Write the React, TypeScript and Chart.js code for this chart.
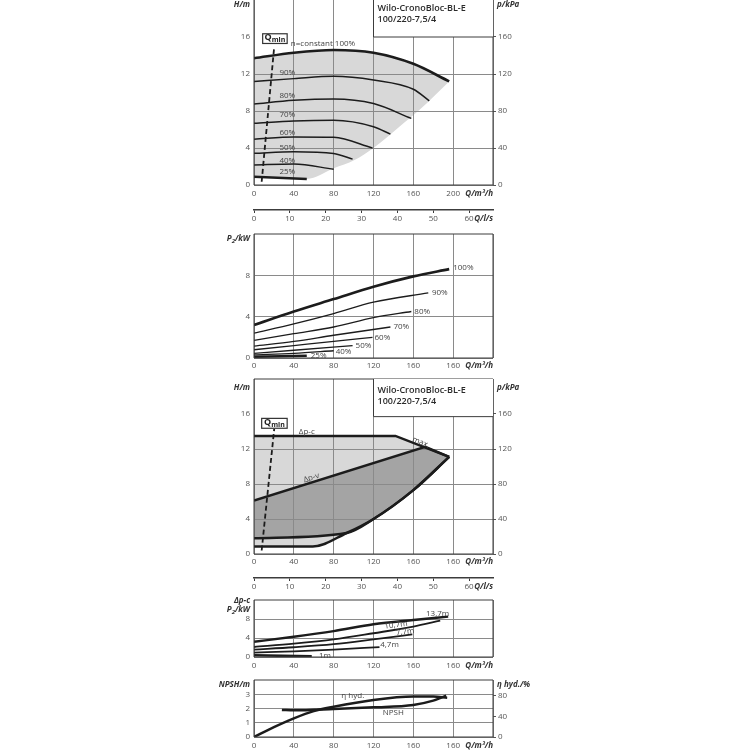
import { useEffect, useRef } from "react";
import { Chart, registerables, type ChartConfiguration, type Plugin } from "chart.js";

Chart.register(...registerables);

const FONT = "'Open Sans', 'DejaVu Sans', sans-serif";
const INK = "#1c1c1c";
const GRID = "#8a8a8a";
const FRAME = "#3c3c3c";
const TICK = "#555555";
const NOTE = "#444444";
const LIGHT = "#d8d8d8";
const DARK = "#a4a4a4";
const CLEAR = "rgba(0,0,0,0)";

type Pt = [number, number];

// axis ticks and printed labels
const qTicks = [0, 40, 80, 120, 160, 200, 240];
const qLabelsTop = ["0", "40", "80", "120", "160", "200", ""];
const qLabels = ["0", "40", "80", "120", "160", "160", ""];
const lsTicks = [0, 10, 20, 30, 40, 50, 60];
const hTicks = [0, 4, 8, 12, 16];
const pTicks = [0, 40, 80, 120, 160];
const kwTicks = [0, 4, 8];
const npshTicks = [0, 1, 2, 3];
const etaTicks = [0, 40, 80];

// H/m over Q/m³/h for each speed
const head100: Pt[] = [[0, 13.7], [40, 14.3], [80, 14.6], [120, 14.3], [160, 13.1], [196, 11.2]];
const head90: Pt[] = [[0, 11.2], [40, 11.5], [80, 11.75], [120, 11.35], [160, 10.35], [176, 9.1]];
const head80: Pt[] = [[0, 8.75], [40, 9.15], [80, 9.3], [120, 8.8], [158, 7.2]];
const head70: Pt[] = [[0, 6.67], [40, 6.92], [80, 7.0], [120, 6.3], [137, 5.5]];
const head60: Pt[] = [[0, 4.94], [40, 5.2], [80, 5.15], [119, 4.0]];
const head50: Pt[] = [[0, 3.42], [40, 3.6], [80, 3.4], [99, 2.8]];
const head40: Pt[] = [[0, 2.16], [40, 2.27], [80, 1.7]];
const head25: Pt[] = [[0, 0.9], [53, 0.65]];
const rangeEdge: Pt[] = [[0, 0.9], [53, 0.65], [80, 1.8], [101, 2.7], [120, 4.0], [146, 6.3], [166, 8.1], [196, 11.2]];
const qminTop: Pt[] = [[7.7, 0.35], [20.3, 14.95]];

// P2/kW over Q for each speed
const power100: Pt[] = [[0, 3.2], [40, 4.5], [80, 5.7], [120, 6.9], [160, 7.9], [196, 8.6]];
const power90: Pt[] = [[0, 2.4], [40, 3.3], [80, 4.3], [120, 5.4], [175, 6.3]];
const power80: Pt[] = [[0, 1.7], [40, 2.35], [80, 3.0], [120, 3.9], [158, 4.5]];
const power70: Pt[] = [[0, 1.15], [40, 1.6], [80, 2.2], [137, 3.0]];
const power60: Pt[] = [[0, 0.8], [40, 1.2], [80, 1.6], [119, 2.0]];
const power50: Pt[] = [[0, 0.45], [40, 0.75], [99, 1.2]];
const power40: Pt[] = [[0, 0.3], [40, 0.45], [80, 0.7]];
const power25: Pt[] = [[0, 0.12], [53, 0.22]];

// control modes Δp-c / Δp-v
const dpcTop: Pt[] = [[0, 13.5], [142, 13.5], [196, 11.1]];
const minEdge: Pt[] = [[0, 0.85], [59, 0.85], [93, 2.4], [120, 4.0], [160, 7.3], [196, 11.1]];
const dpvTop: Pt[] = [[0, 6.1], [172, 12.25], [196, 11.1]];
const dpvBottom: Pt[] = [[0, 1.8], [93, 2.4], [120, 4.0], [160, 7.3], [196, 11.1]];
const qminMid: Pt[] = [[7.7, 0.4], [20.3, 14.3]];

// Δp-c power at set heads
const dpc137: Pt[] = [[0, 3.2], [40, 4.25], [80, 5.45], [120, 6.9], [160, 7.8], [195, 8.5]];
const dpc107: Pt[] = [[0, 2.1], [40, 2.8], [80, 3.7], [120, 5.0], [160, 6.4], [187, 7.65]];
const dpc77: Pt[] = [[0, 1.56], [40, 2.05], [80, 2.7], [120, 3.7], [159, 4.75]];
const dpc47: Pt[] = [[0, 0.93], [40, 1.2], [80, 1.56], [126, 2.1]];
const dpc1: Pt[] = [[0, 0.36], [58, 0.15]];

// NPSH/m and hydraulic efficiency/%
const npsh: Pt[] = [[28, 1.9], [40, 1.87], [80, 1.96], [120, 2.08], [160, 2.25], [180, 2.55], [193, 2.9]];
const etaHyd: Pt[] = [[0, 0], [20, 19], [40, 36], [60, 50], [80, 58.5], [120, 71.5], [160, 78], [180, 78], [194, 75.5]];

type Seg = { t: string; sub?: boolean };
type Caption = { segs: Seg[]; at: "left" | "right" | "end"; from: "top" | "bottom"; dy: number };
type Note = { text: string; q: number; v: number; angle?: number; align?: CanvasTextAlign };
type Box = { q0: number; q1: number; v0: number; v1: number };
type Title = { q: number; v: number; lines: string[]; offsets: number[] };

const titleLines = ["Wilo-CronoBloc-BL-E", "100/220-7,5/4"];

const headNotes: Note[] = [
  { text: "n=constant 100%", q: 37, v: 15.3 },
  { text: "90%", q: 25.5, v: 12.1 },
  { text: "80%", q: 25.5, v: 9.6 },
  { text: "70%", q: 25.5, v: 7.55 },
  { text: "60%", q: 25.5, v: 5.65 },
  { text: "50%", q: 25.5, v: 4.0 },
  { text: "40%", q: 25.5, v: 2.6 },
  { text: "25%", q: 25.5, v: 1.4 },
];
const powerNotes: Note[] = [
  { text: "100%", q: 200, v: 8.7 },
  { text: "90%", q: 178.7, v: 6.36 },
  { text: "80%", q: 161, v: 4.46 },
  { text: "70%", q: 140, v: 3.02 },
  { text: "60%", q: 121, v: 1.96 },
  { text: "50%", q: 102, v: 1.16 },
  { text: "40%", q: 82, v: 0.61 },
  { text: "25%", q: 57, v: 0.22 },
];
const modeNotes: Note[] = [
  { text: "Δp-c", q: 53, v: 13.95, align: "center" },
  { text: "Δp-v", q: 57.7, v: 8.7, align: "center", angle: -17 },
  { text: "max.", q: 167.7, v: 12.75, align: "center", angle: 22 },
];
const dpcNotes: Note[] = [
  { text: "13,7m", q: 172.7, v: 9.07 },
  { text: "10,7m", q: 131, v: 6.4, angle: -8 },
  { text: "7,7m", q: 142.5, v: 5.0, angle: -8 },
  { text: "4,7m", q: 126.7, v: 2.65 },
  { text: "1m", q: 65.3, v: 0.36 },
];
const npshNotes: Note[] = [
  { text: "η hyd.", q: 87.7, v: 2.9 },
  { text: "NPSH", q: 129.3, v: 1.73 },
];

const tickFont = { family: FONT, size: 8 };

function fixBox(size: number) {
  return (s: any) => {
    if (s.isHorizontal()) s.height = size;
    else s.width = size;
    s.paddingLeft = 0;
    s.paddingRight = 0;
    s.paddingTop = 0;
    s.paddingBottom = 0;
  };
}
const useTicks = (values: number[]) => (s: any) => {
  s.ticks = values.map((value) => ({ value }));
};

function qScale(labels: string[], height: number, pad: number) {
  return {
    type: "linear",
    position: "bottom",
    min: 0,
    max: 240,
    weight: 0,
    afterBuildTicks: useTicks(qTicks),
    afterFit: fixBox(height),
    border: { display: false },
    grid: { color: GRID, lineWidth: 1, drawTicks: false },
    ticks: {
      font: tickFont,
      color: TICK,
      padding: pad,
      autoSkip: false,
      maxRotation: 0,
      callback: (_v: unknown, i: number) => labels[i],
    },
  };
}

function lsScale(height: number) {
  return {
    type: "linear",
    position: "bottom",
    min: 0,
    max: 240 / 3.6,
    weight: 1,
    afterBuildTicks: useTicks(lsTicks),
    afterFit: fixBox(height),
    border: { display: true, color: FRAME, width: 1.5 },
    grid: { drawOnChartArea: false, drawTicks: true, tickLength: 3, tickColor: FRAME, color: FRAME },
    ticks: { font: tickFont, color: TICK, padding: 1, autoSkip: false, maxRotation: 0 },
  };
}

function leftScale(max: number, values: number[]) {
  return {
    type: "linear",
    position: "left",
    min: 0,
    max,
    afterBuildTicks: useTicks(values),
    afterFit: fixBox(254),
    border: { display: false },
    grid: { color: (c: any) => (c.tick && c.tick.value === 16 ? CLEAR : GRID), drawTicks: false },
    ticks: { font: tickFont, color: TICK, padding: 4 },
  };
}

function rightScale(max: number, values: number[]) {
  return {
    type: "linear",
    position: "right",
    min: 0,
    max,
    afterBuildTicks: useTicks(values),
    afterFit: fixBox(257),
    border: { display: false },
    grid: { drawOnChartArea: false, drawTicks: true, tickLength: 3, tickColor: TICK },
    ticks: { font: tickFont, color: TICK, padding: 2 },
  };
}

function line(pts: Pt[], width: number, extra: Record<string, unknown> = {}) {
  return {
    data: pts.map(([x, y]) => ({ x, y })),
    xAxisID: "x",
    yAxisID: "y",
    borderColor: INK,
    borderWidth: width,
    pointRadius: 0,
    fill: false,
    cubicInterpolationMode: "monotone",
    ...extra,
  };
}

const dashed = { borderDash: [5, 3], cubicInterpolationMode: "default", tension: 0 };

function drawSegs(ctx: CanvasRenderingContext2D, segs: Seg[], x: number, y: number, align: string, font: string, sub: string) {
  const widths = segs.map((s) => {
    ctx.font = s.sub ? sub : font;
    return ctx.measureText(s.t).width;
  });
  const total = widths.reduce((a, b) => a + b, 0);
  let cx = align === "right" ? x - total : align === "center" ? x - total / 2 : x;
  ctx.textAlign = "left";
  ctx.textBaseline = "middle";
  segs.forEach((s, i) => {
    ctx.font = s.sub ? sub : font;
    ctx.fillText(s.t, cx, y + (s.sub ? 2.5 : 0));
    cx += widths[i];
  });
}

interface Decor {
  frameTop: boolean;
  captions: Caption[];
  notes: Note[];
  qmin?: Box;
  title?: Title;
}

function decor(d: Decor): Plugin {
  return {
    id: "decor",
    afterDraw(chart) {
      const { ctx, chartArea: a, scales } = chart;
      const xs = scales.x;
      const ys = scales.y;
      ctx.save();
      ctx.strokeStyle = FRAME;
      ctx.lineWidth = 1;
      ctx.beginPath();
      if (d.frameTop) {
        ctx.moveTo(a.left, a.top);
        ctx.lineTo(a.right, a.top);
      }
      ctx.moveTo(a.left, a.top);
      ctx.lineTo(a.left, a.bottom);
      ctx.lineTo(a.right, a.bottom);
      ctx.lineTo(a.right, a.top);
      ctx.stroke();

      if (d.title) {
        const bx = xs.getPixelForValue(d.title.q);
        const by = ys.getPixelForValue(d.title.v);
        ctx.fillStyle = "#ffffff";
        ctx.fillRect(bx, a.top, a.right - bx, by - a.top);
        ctx.beginPath();
        ctx.moveTo(bx, a.top);
        ctx.lineTo(bx, by);
        ctx.lineTo(a.right, by);
        ctx.stroke();
        ctx.fillStyle = "#2a2a2a";
        ctx.font = `600 9px ${FONT}`;
        ctx.textAlign = "left";
        ctx.textBaseline = "middle";
        d.title.lines.forEach((t, i) => ctx.fillText(t, bx + 4, by - d.title!.offsets[i]));
      }

      if (d.qmin) {
        const x0 = xs.getPixelForValue(d.qmin.q0);
        const x1 = xs.getPixelForValue(d.qmin.q1);
        const y0 = ys.getPixelForValue(d.qmin.v1);
        const y1 = ys.getPixelForValue(d.qmin.v0);
        ctx.fillStyle = "#ffffff";
        ctx.fillRect(x0, y0, x1 - x0, y1 - y0);
        ctx.lineWidth = 1.2;
        ctx.strokeStyle = "#333";
        ctx.strokeRect(x0, y0, x1 - x0, y1 - y0);
        ctx.fillStyle = "#222";
        drawSegs(ctx, [{ t: "Q" }, { t: "min", sub: true }], (x0 + x1) / 2, (y0 + y1) / 2 - 1, "center", `bold 9px ${FONT}`, `bold 7px ${FONT}`);
      }

      ctx.fillStyle = NOTE;
      ctx.font = `8px ${FONT}`;
      ctx.textBaseline = "middle";
      d.notes.forEach((n) => {
        const px = xs.getPixelForValue(n.q);
        const py = ys.getPixelForValue(n.v);
        ctx.save();
        ctx.translate(px, py);
        if (n.angle) ctx.rotate((n.angle * Math.PI) / 180);
        ctx.textAlign = n.align || "left";
        ctx.fillText(n.text, 0, 0);
        ctx.restore();
      });

      ctx.fillStyle = "#333";
      d.captions.forEach((c) => {
        const y = (c.from === "top" ? a.top : a.bottom) + c.dy;
        const x = c.at === "left" ? a.left - 4 : c.at === "right" ? a.right + 4 : a.right;
        const align = c.at === "right" ? "left" : "right";
        drawSegs(ctx, c.segs, x, y, align, `italic bold 8px ${FONT}`, `italic bold 6px ${FONT}`);
      });
      ctx.restore();
    },
  };
}

function options(padding: Record<string, number>, scales: Record<string, unknown>) {
  return {
    animation: false,
    responsive: false,
    events: [],
    layout: { padding },
    plugins: {
      legend: { display: false },
      tooltip: { enabled: false },
      filler: { drawTime: "beforeDraw" },
    },
    scales,
  } as any;
}

const qCap: Seg[] = [{ t: "Q/m³/h" }];
const lsCap: Seg[] = [{ t: "Q/l/s" }];
const p2Cap: Seg[] = [{ t: "P" }, { t: "2", sub: true }, { t: "/kW" }];

function headChart(): ChartConfiguration {
  return {
    type: "line",
    data: {
      datasets: [
        line(head100, 2.6, { fill: 9, backgroundColor: LIGHT }),
        line(head90, 1.5),
        line(head80, 1.5),
        line(head70, 1.5),
        line(head60, 1.5),
        line(head50, 1.5),
        line(head40, 1.5),
        line(head25, 2.4),
        line(qminTop, 1.8, dashed),
        line(rangeEdge, 1, { borderColor: CLEAR }),
      ] as any,
    },
    options: options(
      { left: 0, right: 0, top: 0, bottom: 0 },
      { x: qScale(qLabelsTop, 25, 4), x2: lsScale(22), y: leftScale(20, hTicks), y1: rightScale(200, pTicks) },
    ),
    plugins: [
      decor({
        frameTop: false,
        notes: headNotes,
        qmin: { q0: 8.7, q1: 33.3, v0: 15.3, v1: 16.35 },
        title: { q: 120, v: 16, lines: titleLines, offsets: [29, 18] },
        captions: [
          { segs: [{ t: "H/m" }], at: "left", from: "top", dy: 5 },
          { segs: [{ t: "p/kPa" }], at: "right", from: "top", dy: 5 },
          { segs: qCap, at: "end", from: "bottom", dy: 9 },
          { segs: lsCap, at: "end", from: "bottom", dy: 34 },
        ],
      }),
    ],
  };
}

function powerChart(): ChartConfiguration {
  return {
    type: "line",
    data: {
      datasets: [
        line(power100, 2.6),
        line(power90, 1.3),
        line(power80, 1.3),
        line(power70, 1.3),
        line(power60, 1.3),
        line(power50, 1.3),
        line(power40, 1.3),
        line(power25, 2.6),
      ] as any,
    },
    options: options({ left: 0, right: 257, top: 5, bottom: 0 }, { x: qScale(qLabels, 17, 3), y: leftScale(12, kwTicks) }),
    plugins: [
      decor({
        frameTop: true,
        notes: powerNotes,
        captions: [
          { segs: p2Cap, at: "left", from: "top", dy: 4.5 },
          { segs: qCap, at: "end", from: "bottom", dy: 8 },
        ],
      }),
    ],
  };
}

function modeChart(): ChartConfiguration {
  return {
    type: "line",
    data: {
      datasets: [
        line(dpvTop, 2.5, { fill: 1, backgroundColor: DARK, cubicInterpolationMode: "default", tension: 0 }),
        line(dpvBottom, 2.5),
        line(dpcTop, 2.5, { fill: 3, backgroundColor: LIGHT, cubicInterpolationMode: "default", tension: 0 }),
        line(minEdge, 2.5),
        line(qminMid, 1.8, dashed),
      ] as any,
    },
    options: options(
      { left: 0, right: 0, top: 4, bottom: 0 },
      { x: qScale(qLabels, 24, 2.6), x2: lsScale(17), y: leftScale(20, hTicks), y1: rightScale(200, pTicks) },
    ),
    plugins: [
      decor({
        frameTop: true,
        notes: modeNotes,
        qmin: { q0: 7.7, q1: 33.3, v0: 14.37, v1: 15.5 },
        title: { q: 120, v: 15.7, lines: titleLines, offsets: [25.7, 15] },
        captions: [
          { segs: [{ t: "H/m" }], at: "left", from: "top", dy: 8.7 },
          { segs: [{ t: "p/kPa" }], at: "right", from: "top", dy: 8.7 },
          { segs: qCap, at: "end", from: "bottom", dy: 7.7 },
          { segs: lsCap, at: "end", from: "bottom", dy: 33 },
        ],
      }),
    ],
  };
}

function dpcChart(): ChartConfiguration {
  return {
    type: "line",
    data: {
      datasets: [
        line(dpc137, 2.4),
        line(dpc107, 1.8),
        line(dpc77, 1.8),
        line(dpc47, 1.8),
        line(dpc1, 2.6),
      ] as any,
    },
    options: options({ left: 0, right: 257, top: 6, bottom: 0 }, { x: qScale(qLabels, 18, 3.6), y: leftScale(12, kwTicks) }),
    plugins: [
      decor({
        frameTop: true,
        notes: dpcNotes,
        captions: [
          { segs: [{ t: "Δp-c" }], at: "left", from: "top", dy: 1 },
          { segs: p2Cap, at: "left", from: "top", dy: 10 },
          { segs: qCap, at: "end", from: "bottom", dy: 8.7 },
        ],
      }),
    ],
  };
}

function npshChart(): ChartConfiguration {
  return {
    type: "line",
    data: {
      datasets: [line(npsh, 2.5), line(etaHyd, 2.5, { yAxisID: "y1" })] as any,
    },
    options: options(
      { left: 0, right: 0, top: 5, bottom: 0 },
      { x: qScale(qLabels, 13, 3.6), y: leftScale(4, npshTicks), y1: rightScale(110, etaTicks) },
    ),
    plugins: [
      decor({
        frameTop: true,
        notes: npshNotes,
        captions: [
          { segs: [{ t: "NPSH/m" }], at: "left", from: "top", dy: 5 },
          { segs: [{ t: "η hyd./%" }], at: "right", from: "top", dy: 5 },
          { segs: qCap, at: "end", from: "bottom", dy: 8.7 },
        ],
      }),
    ],
  };
}

function ChartPanel({ top, height, make }: { top: number; height: number; make: () => ChartConfiguration }) {
  const ref = useRef<HTMLCanvasElement>(null);
  useEffect(() => {
    if (!ref.current) return;
    const chart = new Chart(ref.current, make());
    return () => chart.destroy();
  }, [make]);
  return (
    <canvas
      ref={ref}
      width={750}
      height={height}
      style={{ position: "absolute", left: 0, top, width: 750, height }}
    />
  );
}

export default function App() {
  return (
    <div style={{ position: "absolute", left: 0, top: 0, width: 750, height: 750, background: "#fff", overflow: "hidden" }}>
      <ChartPanel top={0} height={232} make={headChart} />
      <ChartPanel top={229} height={146} make={powerChart} />
      <ChartPanel top={375} height={220} make={modeChart} />
      <ChartPanel top={594} height={81} make={dpcChart} />
      <ChartPanel top={675} height={75} make={npshChart} />
    </div>
  );
}
